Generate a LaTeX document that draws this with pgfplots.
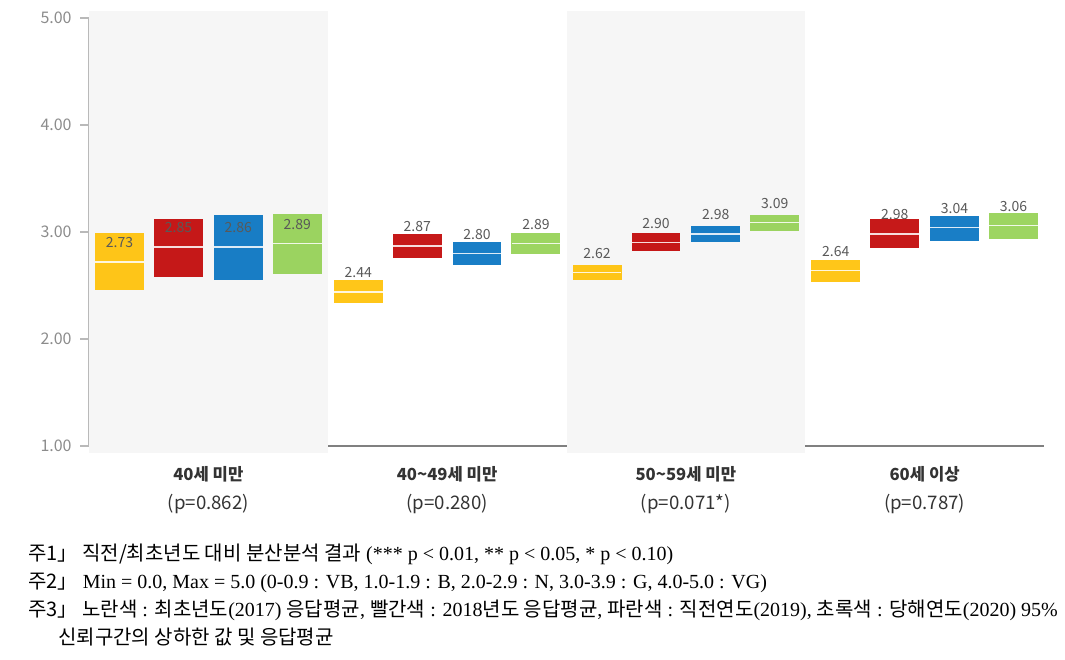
\documentclass[border=0pt]{standalone}
\usepackage{pgfplots}
\usepackage{pgfplotstable}
\pgfplotsset{compat=1.18}
\usepackage{fontspec}
\setmainfont{Liberation Serif}
\newfontfamily\kr{Noto Sans CJK KR}
\definecolor{cy}{HTML}{FFC000}
\definecolor{cr}{HTML}{C00000}
\definecolor{cb}{HTML}{0070C0}
\definecolor{cg}{HTML}{92D050}
\definecolor{bgshade}{HTML}{F6F6F6}
\definecolor{lbl}{HTML}{595959}
\definecolor{tck}{HTML}{8C8C8C}

% x = group + offset; lo/hi = 95% CI; m = mean; lab = printed mean
\pgfplotstableread{
x lo hi m lab
-0.372 2.46 2.99 2.72 2.73
0.628 2.34 2.55 2.44 2.44
1.628 2.55 2.69 2.62 2.62
2.628 2.53 2.74 2.64 2.64
}\tyellow
\pgfplotstableread{
x lo hi m lab
-0.125 2.58 3.12 2.86 2.85
0.875 2.76 2.98 2.87 2.87
1.875 2.82 2.99 2.90 2.90
2.875 2.85 3.12 2.98 2.98
}\tred
\pgfplotstableread{
x lo hi m lab
0.125 2.55 3.16 2.86 2.86
1.125 2.69 2.91 2.80 2.80
2.125 2.91 3.06 2.98 2.98
3.125 2.92 3.15 3.04 3.04
}\tblue
\pgfplotstableread{
x lo hi m lab
0.372 2.61 3.17 2.89 2.89
1.372 2.79 2.99 2.89 2.89
2.372 3.01 3.16 3.09 3.09
3.372 2.93 3.18 3.06 3.06
}\tgreen

\newcommand\labels[1]{%
\addplot[draw=none, mark=none, nodes near coords, point meta=explicit symbolic,
  nodes near coords style={font=\kr\fontsize{10.5}{10.5}\selectfont, text=lbl, anchor=center, yshift=14.5pt}]
  table[x=x, y=m, meta=lab]{#1};}
\newcommand\boxes[2]{%
\addplot[draw=none, mark=none, error bars/.cd, y dir=both, y explicit, error mark=none,
  error bar style={draw=#2, line width=36.7pt, opacity=0.9}]
  table[x=x, y=m, y error plus expr=\thisrow{hi}-\thisrow{m}, y error minus expr=\thisrow{m}-\thisrow{lo}]{#1};
\addplot[only marks, mark=-, mark size=18.3pt, mark options={draw=white, fill=none, line width=1pt, opacity=0.85}]
  table[x=x, y=m]{#1};}

\begin{document}
\begin{tikzpicture}
\useasboundingbox (-66.75pt,-160.5pt) rectangle (732pt,334.5pt);
\begin{axis}[
  scale only axis, width=716.25pt, height=321pt,
  xmin=-0.5, xmax=3.5, ymin=1, ymax=5,
  clip=false,
  axis x line*=bottom, axis y line*=left,
  x axis line style={draw=gray, line width=1.5pt},
  y axis line style={draw=gray!55, line width=0.8pt},
  ytick={1,2,3,4,5},
  yticklabel={\pgfmathprintnumber[fixed,fixed zerofill,precision=2]{\tick}},
  yticklabel style={font=\kr\fontsize{12}{12}\selectfont, text=tck, xshift=-3pt},
  /pgf/number format/assume math mode=true,
  ytick style={draw=gray!55, line width=0.8pt},
  tick align=outside, major tick length=6.5pt,
  xtick={0,1,2,3},
  xtick style={draw=none},
  xticklabels={
    {\bfseries 40세 미만\\[8pt]{\mdseries\fontsize{14}{15}\selectfont (p=0.862)}},
    {\bfseries 40\textasciitilde 49세 미만\\[8pt]{\mdseries\fontsize{14}{15}\selectfont (p=0.280)}},
    {\bfseries 50\textasciitilde 59세 미만\\[8pt]{\mdseries\fontsize{14}{15}\selectfont (p=0.071*)}},
    {\bfseries 60세 이상\\[8pt]{\mdseries\fontsize{14}{15}\selectfont (p=0.787)}}},
  xticklabel style={align=center, font=\kr\fontsize{12.5}{14}\selectfont, text=black!80, yshift=-5pt},
]
\fill[bgshade] (axis cs:-0.5,0.935) rectangle (axis cs:0.5,5.065);
\fill[bgshade] (axis cs:1.5,0.935) rectangle (axis cs:2.5,5.065);
\labels{\tyellow}
\labels{\tred}
\labels{\tblue}
\labels{\tgreen}
\boxes{\tyellow}{cy}
\boxes{\tred}{cr}
\boxes{\tblue}{cb}
\boxes{\tgreen}{cg}
\end{axis}
\begin{scope}[every node/.style={anchor=base west, inner sep=0pt, font=\fontsize{15}{16}\selectfont}]
\node at (-45.75pt,-86.25pt) {{\kr 주1」 직전/최초년도 대비 분산분석 결과} (*** p < 0.01, ** p < 0.05, * p < 0.10)};
\node at (-45.75pt,-107.25pt) {{\kr 주2」} Min = 0.0, Max = 5.0 (0-0.9 : VB, 1.0-1.9 : B, 2.0-2.9 : N, 3.0-3.9 : G, 4.0-5.0 : VG)};
\node at (-45.75pt,-128.25pt) {{\kr 주3」 노란색} : {\kr 최초년도}(2017) {\kr 응답평균}, {\kr 빨간색} : 2018{\kr 년도 응답평균}, {\kr 파란색} : {\kr 직전연도}(2019), {\kr 초록색} : {\kr 당해연도}(2020) 95\%};
\node at (-23.25pt,-149.25pt) {{\kr 신뢰구간의 상하한 값 및 응답평균}};
\end{scope}
\end{tikzpicture}
\end{document}
